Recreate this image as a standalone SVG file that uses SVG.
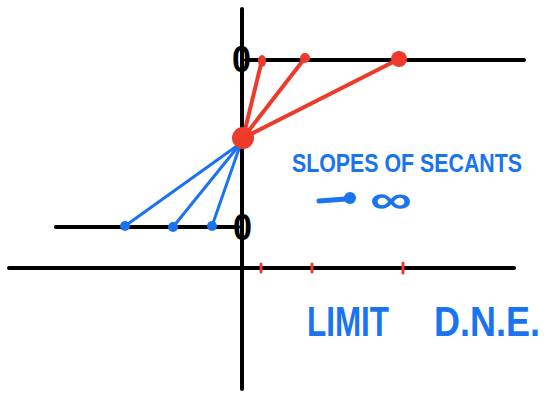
<svg xmlns="http://www.w3.org/2000/svg" width="548" height="393" viewBox="0 0 548 393">
<style>
.ax{stroke:#000;stroke-width:4;stroke-linecap:round;fill:none}
.red{stroke:#EE3A2A;stroke-width:4;stroke-linecap:round}
.blue{stroke:#1A73F0;stroke-width:3;stroke-linecap:round}
.tick{stroke:#EE3A2A;stroke-width:3;stroke-linecap:round}
.rf{fill:#EE3A2A}
.bf{fill:#1A73F0}
.zero{font-family:"Liberation Sans",Arial,sans-serif;font-weight:bold;font-size:36px;fill:#000}
.lbl{font-family:"Liberation Sans",Arial,sans-serif;font-weight:bold;fill:#1A73F0}
</style>
<rect width="548" height="393" fill="#fff"/>
<g id="axes">
<line class="ax" x1="242" y1="9" x2="242" y2="389"/>
<line class="ax" x1="9" y1="268" x2="514" y2="268"/>
<line class="ax" x1="246" y1="60" x2="524" y2="60"/>
<line class="ax" x1="56" y1="227" x2="238" y2="227"/>
<line class="tick" x1="261" y1="264" x2="261" y2="272"/>
<line class="tick" x1="312" y1="264" x2="312" y2="272"/>
<line class="tick" x1="403" y1="263" x2="403" y2="273"/>
</g>
<g id="label-zero-top"><text class="zero" x="232" y="72" textLength="19" lengthAdjust="spacingAndGlyphs">0</text></g>
<g id="label-zero-bottom"><text class="zero" x="233" y="240" textLength="19" lengthAdjust="spacingAndGlyphs">0</text></g>
<g id="connectors">
<line class="red" x1="243" y1="138" x2="262" y2="60"/>
<line class="red" x1="243" y1="138" x2="305" y2="58"/>
<line class="red" x1="243" y1="138" x2="399" y2="59"/>
<line class="blue" x1="241" y1="143" x2="125" y2="226"/>
<line class="blue" x1="241" y1="143" x2="173" y2="227"/>
<line class="blue" x1="241" y1="143" x2="212" y2="226"/>
</g>
<g id="point-center"><circle class="rf" cx="243" cy="138" r="11"/></g>
<g id="point-r1"><ellipse class="rf" cx="262" cy="61" rx="4" ry="6"/></g>
<g id="point-r2"><circle class="rf" cx="305" cy="58" r="5"/></g>
<g id="point-r3"><circle class="rf" cx="399" cy="59" r="8"/></g>
<g id="point-b1"><circle class="bf" cx="125" cy="226" r="5"/></g>
<g id="point-b2"><circle class="bf" cx="173" cy="227" r="5"/></g>
<g id="point-b3"><circle class="bf" cx="212" cy="226" r="5"/></g>
<g id="label-slopes">
<text class="lbl" transform="translate(292,172) scale(1,1.2)" x="0" y="0" font-size="22" textLength="230" lengthAdjust="spacingAndGlyphs">SLOPES OF SECANTS</text>
<line stroke="#1A73F0" stroke-width="5" stroke-linecap="round" x1="319" y1="201" x2="346" y2="199"/>
<circle class="bf" cx="350" cy="198" r="6"/>
<text class="lbl" x="370" y="213" font-size="40" textLength="42" lengthAdjust="spacingAndGlyphs">∞</text>
</g>
<g id="label-limit">
<text class="lbl" transform="translate(307,336) scale(1,1.2)" x="0" y="0" font-size="36" textLength="82" lengthAdjust="spacingAndGlyphs">LIMIT</text>
<text class="lbl" transform="translate(434,336) scale(1,1.2)" x="0" y="0" font-size="36" textLength="106" lengthAdjust="spacingAndGlyphs">D.N.E.</text>
</g>
</svg>
